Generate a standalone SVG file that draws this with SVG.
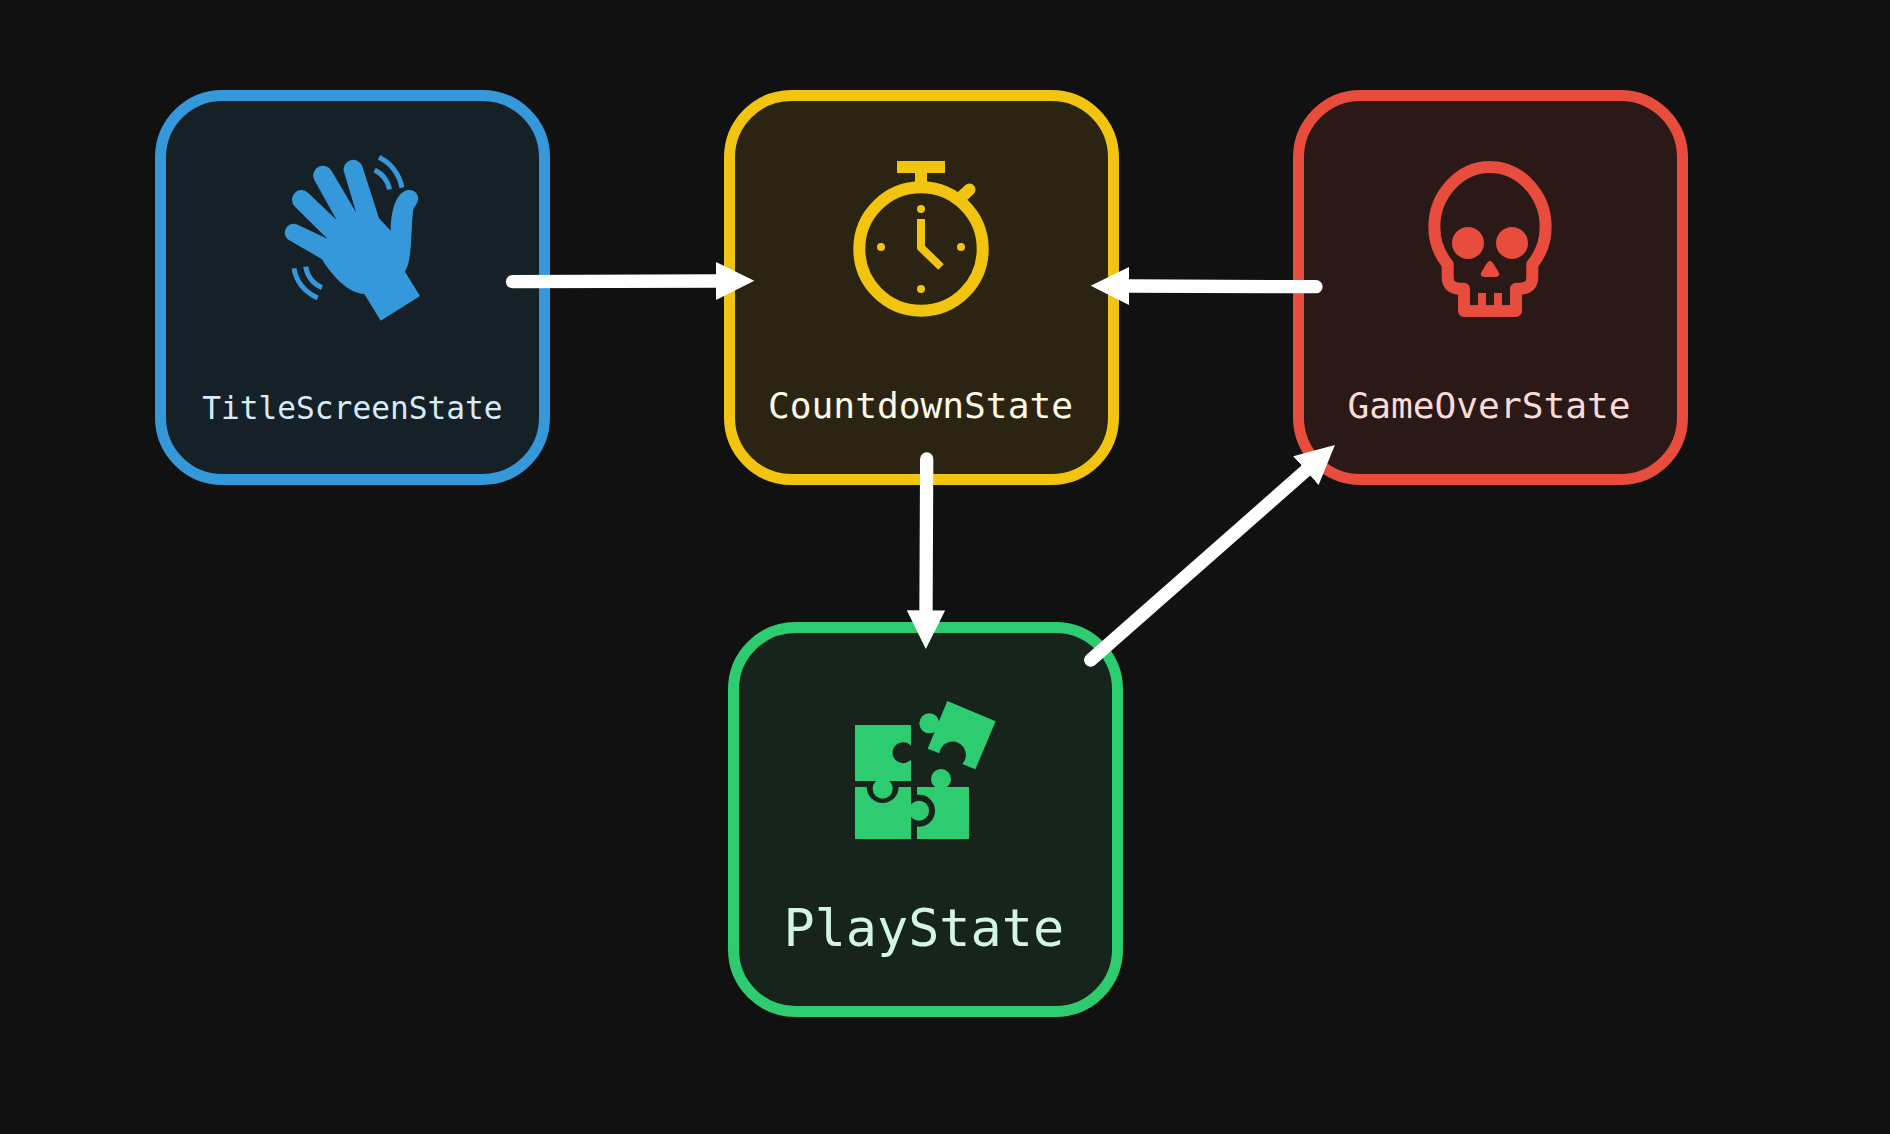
<svg xmlns="http://www.w3.org/2000/svg" width="1890" height="1134" viewBox="0 0 1890 1134">
<style>
.box{stroke-width:11}
.lbl{font-family:"DejaVu Sans Mono","Liberation Mono",monospace;text-anchor:middle}
.link{fill:none;stroke:#fff;stroke-width:13.3;stroke-linecap:round;marker-end:url(#head)}
</style>
<defs>
<marker id="head" markerUnits="userSpaceOnUse" markerWidth="39" markerHeight="39" viewBox="0 0 39 39" refX="0" refY="19.5" orient="auto"><path d="M0 0.3L38.7 19.5L0 38.7Z" fill="#fff"/></marker>
</defs>
<rect width="1890" height="1134" fill="#111111"/>
<g id="TitleScreenState">
<rect class="box" x="160.5" y="95.5" width="384" height="384" rx="62" fill="#162027" stroke="#3498db"/>
<g transform="translate(270 150) scale(.33333)">
<path fill="#3498db" d="M405 365L450 438L332 512L283 432C240 430 195 390 155 327L53 268A27 27 0 0 1 78 222L172 266L75 170A28 28 0 0 1 114 128L200 210L133 90A29 29 0 0 1 185 63L258 187L221 62A29 29 0 0 1 276 46L327 205L362 242C362 190 375 140 400 126C420 112 448 125 444 150C442 162 434 168 430 178C425 210 425 290 418 325C415 345 410 355 405 365Z"/>
<g fill="none" stroke="#3498db" stroke-width="15"><path d="M327 22Q382 50 396 113"/><path d="M314 60Q350 78 359 118"/><path d="M72 355Q82 415 143 444"/><path d="M107 350Q115 395 156 413"/></g>
</g>
<text class="lbl" x="352.4" y="419" font-size="31.2" fill="#d6eaf8">TitleScreenState</text>
</g>
<g id="CountdownState">
<rect class="box" x="729.5" y="95.5" width="384" height="384" rx="62" fill="#2b2413" stroke="#f1c40f"/>
<g fill="none" stroke="#f1c40f">
<circle cx="921" cy="249" r="61.7" stroke-width="12"/>
<path d="M921 173V187" stroke-width="12"/>
<path d="M962 196.5L969.5 189.5" stroke-width="12" stroke-linecap="round"/>
<path d="M921 219V247.5L941 267" stroke-width="8"/>
</g>
<g fill="#f1c40f">
<rect x="897" y="161" width="48" height="12"/>
<circle cx="921" cy="209" r="4"/><circle cx="921" cy="289" r="4"/><circle cx="881" cy="247" r="4"/><circle cx="961" cy="247" r="4"/>
</g>
<text class="lbl" x="920.5" y="418" font-size="36.2" fill="#fef9e7">CountdownState</text>
</g>
<g id="GameOverState">
<rect class="box" x="1298.5" y="95.5" width="384" height="384" rx="62" fill="#2a1917" stroke="#e74c3c"/>
<g transform="translate(1290 80) scale(.33333)">
<path fill="none" stroke="#e74c3c" stroke-width="36" stroke-linejoin="round" d="M600 261C692 261 767 345 767 440C767 485 750 525 727 553V590Q727 626 690 626H678V693H522V626H510Q473 626 473 590V553C450 525 433 485 433 440C433 345 508 261 600 261Z"/>
<path fill="none" stroke="#e74c3c" stroke-width="24" d="M576 639V680M624 639V680"/>
<g fill="#e74c3c"><circle cx="534" cy="489" r="48"/><circle cx="666" cy="489" r="48"/>
<path d="M600 543C606 543 610 550 626 577C630 585 625 591 618 591H582C575 591 570 585 574 577C590 550 594 543 600 543Z"/></g>
</g>
<text class="lbl" x="1489" y="418" font-size="36.2" fill="#fadbd8">GameOverState</text>
</g>
<g id="PlayState">
<rect class="box" x="733.5" y="627.5" width="384" height="384" rx="62" fill="#16241c" stroke="#2ecc71"/>
<g transform="translate(840 690) scale(.33333)" fill="#2ecc71">
<path d="M45 105H213V167.2A31.5 31.5 0 1 0 213 208.8V273H45Z"/>
<circle cx="128" cy="296" r="30"/>
<path d="M45 291H80A48 48 0 1 0 176 291H213V447H45Z"/>
<circle cx="237" cy="362" r="30"/>
<path d="M231 291H387V447H231V409.6A48 48 0 1 0 231 314.4Z"/>
<circle cx="303" cy="267" r="30"/>
<path d="M322 33L467 94L406 238L367 222A40 40 0 1 0 298 190L263 176Z"/>
<circle cx="268" cy="100" r="30"/>
</g>
<text class="lbl" x="923.8" y="946" font-size="51.8" fill="#d5f5e3">PlayState</text>
</g>
<g id="connectors">
<path class="link" d="M512.5 281.7L715.6 281"/>
<path class="link" d="M1316 286.7L1129.4 286"/>
<path class="link" d="M926.7 459L926 610.3"/>
<path class="link" d="M1090.7 660L1305.9 470.6"/>
</g>
</svg>
